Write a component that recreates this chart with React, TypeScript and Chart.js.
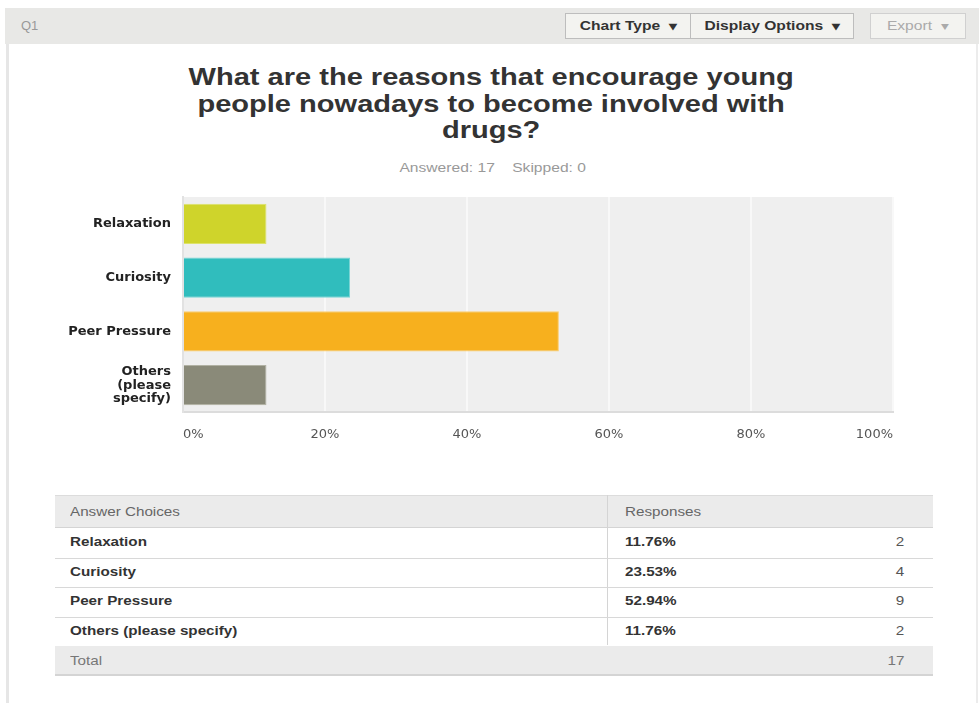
import React, { useEffect, useRef } from "react";
import { Chart, registerables } from "chart.js";

Chart.register(...registerables);

const categories: (string | string[])[] = ["Relaxation", "Curiosity", "Peer Pressure", ["Others", "(please", "specify)"]];
const tableLabels = ["Relaxation", "Curiosity", "Peer Pressure", "Others (please specify)"];
const percentValues = [11.76, 23.53, 52.94, 11.76];
const responseCounts = [2, 4, 9, 2];
const totalCount = 17;
const skippedCount = 0;
const barColors = ["#cfd42b", "#30bdbd", "#f7b01e", "#8a8a79"];
const barBorders = ["#dde36a", "#78d6d6", "#fbcd6e", "#b1b1a3"];
const xTicks = [0, 20, 40, 60, 80, 100];

const FONT = "'Liberation Sans', Arial, Helvetica, sans-serif";
const CFONT = "'DejaVu Sans', Verdana, sans-serif";

const bgPlugin = {
  id: "plotBg",
  beforeDraw(chart: any) {
    const { ctx, chartArea } = chart;
    if (!chartArea) return;
    ctx.save();
    ctx.fillStyle = "#efefef";
    ctx.fillRect(chartArea.left, chartArea.top, chartArea.right - chartArea.left, chartArea.bottom - chartArea.top);
    ctx.restore();
  },
};

function BarChart() {
  const ref = useRef<HTMLCanvasElement | null>(null);
  useEffect(() => {
    if (!ref.current) return;
    const chart = new Chart(ref.current, {
      type: "bar",
      data: {
        labels: categories,
        datasets: [
          {
            data: percentValues,
            backgroundColor: barColors,
            borderColor: barBorders,
            borderWidth: 1,
            categoryPercentage: 1,
            barPercentage: 0.75,
          },
        ],
      },
      options: {
        indexAxis: "y",
        animation: false,
        responsive: false,
        maintainAspectRatio: false,
        layout: { padding: { top: 7, right: 17, left: 0, bottom: 0 } },
        plugins: { legend: { display: false }, tooltip: { enabled: false } },
        scales: {
          x: {
            min: 0,
            max: 100,
            afterBuildTicks(scale: any) {
              scale.ticks = xTicks.map((v) => ({ value: v }));
            },
            afterFit(scale: any) {
              scale.height = 38;
              scale.paddingLeft = 0;
              scale.paddingRight = 0;
            },
            grid: { color: "#f8f8f8", lineWidth: 2, drawTicks: false },
            border: { color: "#dcdcdc", width: 2 },
            ticks: {
              align: "inner",
              padding: 15,
              color: "#555",
              font: { family: CFONT, size: 13 },
              callback: (v: any) => v + "%",
            },
          },
          y: {
            afterFit(scale: any) {
              scale.width = 143;
              scale.paddingTop = 0;
              scale.paddingBottom = 0;
            },
            grid: { display: false, drawTicks: false },
            border: { color: "#e2e2e2", width: 2 },
            ticks: {
              padding: 12,
              color: "#222",
              font: { family: CFONT, size: 13, weight: "bold", lineHeight: 1.05 },
            },
          },
        },
      },
      plugins: [bgPlugin],
    } as any);
    return () => chart.destroy();
  }, []);
  return <canvas ref={ref} width={870} height={260} style={{ position: "absolute", left: 40, top: 190, width: 870, height: 260 }} />;
}

const btn: React.CSSProperties = {
  position: "absolute",
  top: 13,
  height: 26,
  boxSizing: "border-box",
  border: "1px solid #bdbdbd",
  background: "#f3f3f0",
  fontFamily: FONT,
  fontSize: 12,
  fontWeight: "bold",
  color: "#333",
  display: "flex",
  alignItems: "center",
  justifyContent: "center",
};

const wide = (s: number, origin: string): React.CSSProperties => ({
  transform: `scaleX(${s})`,
  transformOrigin: origin,
  display: "inline-block",
  whiteSpace: "nowrap",
});

export default function App() {
  const rowTop = 528;
  const rowH = 29.5;
  const tScale = 1.17;
  return (
    <div style={{ position: "relative", width: 979, height: 703, background: "#fff", overflow: "hidden", fontFamily: FONT }}>
      <style>{"body{margin:0}"}</style>
      {/* header bar */}
      <div style={{ position: "absolute", left: 5, top: 8, width: 974, height: 36, background: "#e8e8e6" }} />
      <div style={{ position: "absolute", left: 21, top: 18, fontSize: 13, color: "#999" }}>Q1</div>
      <div style={{ ...btn, left: 565, width: 126 }}>
        <span style={wide(1.3, "center")}>Chart Type&nbsp;&nbsp;▾</span>
      </div>
      <div style={{ ...btn, left: 690, width: 164 }}>
        <span style={wide(1.3, "center")}>Display Options&nbsp;&nbsp;▾</span>
      </div>
      <div style={{ ...btn, left: 870, width: 96, fontWeight: "normal", color: "#aaa", border: "1px solid #d0d0d0" }}>
        <span style={wide(1.3, "center")}>Export&nbsp;&nbsp;▾</span>
      </div>
      {/* left & right borders */}
      <div style={{ position: "absolute", left: 6, top: 44, width: 3, height: 660, background: "#e6e6e6" }} />
      <div style={{ position: "absolute", left: 976, top: 44, width: 2, height: 660, background: "#ececec" }} />
      {/* title */}
      <div
        style={{
          position: "absolute",
          left: 9,
          width: 968,
          top: 64,
          textAlign: "center",
          fontSize: 24,
          fontWeight: "bold",
          lineHeight: "26.5px",
          color: "#333",
          transform: "scaleX(1.21)",
          transformOrigin: "493px 0",
        }}
      >
        What are the reasons that encourage young
        <br />
        people nowadays to become involved with
        <br />
        drugs?
      </div>
      <div style={{ position: "absolute", left: 9, width: 968, top: 161, textAlign: "center", fontSize: 12, color: "#999", transform: "scaleX(1.3)", transformOrigin: "485px 0" }}>
        Answered: {totalCount}&nbsp;&nbsp;&nbsp;&nbsp;Skipped: {skippedCount}
      </div>
      <BarChart />
      {/* table */}
      <div style={{ position: "absolute", left: 55, top: 495, width: 878, height: 33, background: "#ebebeb", borderTop: "1px solid #dcdcdc", borderBottom: "1px solid #d4d4d4", boxSizing: "border-box" }} />
      <div style={{ position: "absolute", left: 70, top: 504, fontSize: 13, color: "#666" }}>
        <span style={wide(tScale, "left")}>Answer Choices</span>
      </div>
      <div style={{ position: "absolute", left: 625, top: 504, fontSize: 13, color: "#666" }}>
        <span style={wide(tScale, "left")}>Responses</span>
      </div>
      <div style={{ position: "absolute", left: 607, top: 495, width: 1, height: 150, background: "#d4d4d4" }} />
      {tableLabels.map((lab, i) => (
        <React.Fragment key={lab}>
          <div style={{ position: "absolute", left: 70, top: rowTop + i * rowH + 6, fontSize: 13, fontWeight: "bold", color: "#333" }}>
            <span style={wide(tScale, "left")}>{lab}</span>
          </div>
          <div style={{ position: "absolute", left: 625, top: rowTop + i * rowH + 6, fontSize: 13, fontWeight: "bold", color: "#333" }}>
            <span style={wide(tScale, "left")}>{percentValues[i].toFixed(2)}%</span>
          </div>
          <div style={{ position: "absolute", right: 979 - 904, top: rowTop + i * rowH + 6, fontSize: 13, color: "#555" }}>
            <span style={wide(tScale, "right")}>{responseCounts[i]}</span>
          </div>
          <div style={{ position: "absolute", left: 55, top: rowTop + (i + 1) * rowH, width: 878, height: 1, background: "#d8d8d8" }} />
        </React.Fragment>
      ))}
      <div style={{ position: "absolute", left: 55, top: 646, width: 878, height: 30, background: "#ebebeb", borderBottom: "2px solid #d4d4d4", boxSizing: "border-box" }} />
      <div style={{ position: "absolute", left: 70, top: 653, fontSize: 13, color: "#777" }}>
        <span style={wide(tScale, "left")}>Total</span>
      </div>
      <div style={{ position: "absolute", right: 979 - 904, top: 653, fontSize: 13, color: "#777" }}>
        <span style={wide(tScale, "right")}>{totalCount}</span>
      </div>
    </div>
  );
}
